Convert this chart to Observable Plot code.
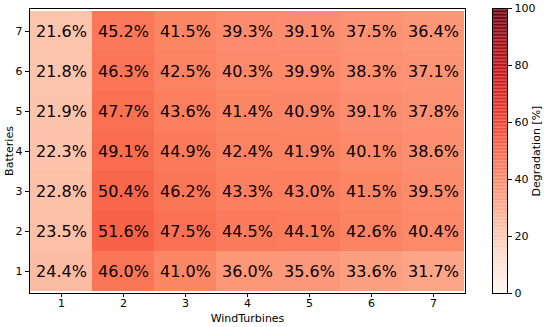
<!DOCTYPE html>
<html>
<head>
<meta charset="utf-8">
<script src="https://cdn.jsdelivr.net/npm/d3@7"></script>
<script src="https://cdn.jsdelivr.net/npm/@observablehq/plot@0.6"></script>
<style>
  body { margin: 0; background: #fff; }
  #wrap { position: relative; width: 550px; height: 327px; }
  #wrap svg { position: absolute; top: 0; left: 0; }
</style>
</head>
<body>
<div id="wrap"></div>
<script>
const windTurbines = [1, 2, 3, 4, 5, 6, 7];
const batteries = [7, 6, 5, 4, 3, 2, 1];
const degB7 = [21.6, 45.2, 41.5, 39.3, 39.1, 37.5, 36.4];
const degB6 = [21.8, 46.3, 42.5, 40.3, 39.9, 38.3, 37.1];
const degB5 = [21.9, 47.7, 43.6, 41.4, 40.9, 39.1, 37.8];
const degB4 = [22.3, 49.1, 44.9, 42.4, 41.9, 40.1, 38.6];
const degB3 = [22.8, 50.4, 46.2, 43.3, 43.0, 41.5, 39.5];
const degB2 = [23.5, 51.6, 47.5, 44.5, 44.1, 42.6, 40.4];
const degB1 = [24.4, 46.0, 41.0, 36.0, 35.6, 33.6, 31.7];
const colorbarTicks = [0, 20, 40, 60, 80, 100];

const rows = [degB7, degB6, degB5, degB4, degB3, degB2, degB1];
const data = [];
batteries.forEach((b, i) => {
  windTurbines.forEach((w, j) => {
    data.push({ w, b, v: rows[i][j] });
  });
});

const font = "DejaVu Sans, sans-serif";
const colorOpts = { type: "linear", scheme: "reds", domain: [0, 100] };

const main = Plot.plot({
  width: 550, height: 327,
  marginLeft: 29, marginRight: 85, marginTop: 8, marginBottom: 34,
  style: { fontFamily: font, fontSize: "11px", color: "#000", background: "transparent" },
  x: { type: "band", domain: windTurbines, padding: 0 },
  y: { type: "band", domain: batteries, padding: 0 },
  color: colorOpts,
  marks: [
    Plot.cell(data, { x: "w", y: "b", fill: "v", inset: 0 }),
    Plot.text(data, { x: "w", y: "b", text: d => d.v.toFixed(1) + "%", fill: "#0a0000", fontSize: 16 }),
    Plot.frame({ stroke: "#000", strokeWidth: 1 }),
    Plot.axisX({ tickSize: 4, tickPadding: 2, fontSize: 11, label: "WindTurbines", labelAnchor: "center", labelOffset: 28, labelArrow: "none" }),
    Plot.axisY({ tickSize: 4, tickPadding: 3, fontSize: 11, label: "Batteries", labelAnchor: "center", labelOffset: 24, labelArrow: "none" })
  ]
});

const steps = d3.range(0, 100, 0.5);
const bar = Plot.plot({
  width: 550, height: 327,
  marginLeft: 492, marginRight: 43, marginTop: 8, marginBottom: 34,
  style: { fontFamily: font, fontSize: "11px", color: "#000", background: "transparent" },
  x: { domain: [0, 1], axis: null },
  y: { domain: [0, 100] },
  color: colorOpts,
  marks: [
    Plot.rect(steps, { x1: 0, x2: 1, y1: d => d, y2: d => d + 0.5, fill: d => d + 0.25 }),
    Plot.frame({ stroke: "#000", strokeWidth: 1 }),
    Plot.axisY({ anchor: "right", ticks: colorbarTicks, tickSize: 4, tickPadding: 3, fontSize: 11, label: "Degradation [%]", labelAnchor: "center", labelOffset: 32, labelArrow: "none" })
  ]
});

document.getElementById("wrap").append(main, bar);
</script>
</body>
</html>
